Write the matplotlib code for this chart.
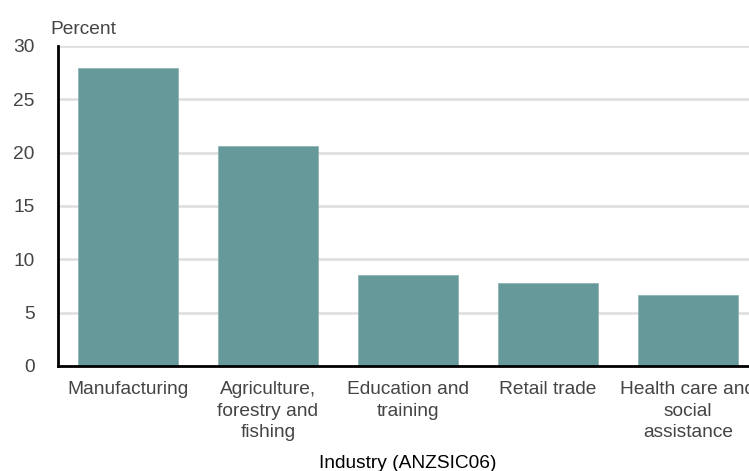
import matplotlib.pyplot as plt
import numpy as np

# Share of workers by industry (ANZSIC06), percent
industries = ["Manufacturing", "Agriculture,\nforestry and\nfishing", "Education and\ntraining",
              "Retail trade", "Health care and\nsocial\nassistance"]
percent = [27.9, 20.6, 8.5, 7.75, 6.65]
y_ticks = [0, 5, 10, 15, 20, 25, 30]

bar_color = "#669999"
text_color = "#444444"

plt.rcParams['font.family'] = ['Liberation Sans', 'DejaVu Sans']

fig = plt.figure(figsize=(7.49, 4.71), dpi=100)
# axis runs past the right edge of the picture, like the cropped original
ax = fig.add_axes([58 / 749, 1 - 366 / 471, 700 / 749, 320 / 471])

x = np.arange(len(industries))
ax.bar(x, percent, width=100 / 140, color=bar_color, edgecolor="#8fb5b5", linewidth=0.6, zorder=3)

ax.set_xlim(-0.5, len(industries) - 0.5)
ax.set_ylim(0, 30)
ax.set_yticks(y_ticks)
ax.set_yticklabels([str(t) for t in y_ticks])
ax.set_xticks(x)
ax.set_xticklabels(industries, linespacing=1.33)

ax.grid(axis="y", color="#dddddd", linewidth=1.8, zorder=0)
ax.set_axisbelow(True)
for side in ["top", "right"]:
    ax.spines[side].set_visible(False)
ax.spines["left"].set_linewidth(2)
ax.spines["bottom"].set_linewidth(2)
ax.spines["left"].set_zorder(4)
ax.spines["bottom"].set_zorder(4)
ax.tick_params(axis="both", length=0, labelsize=13.8, colors=text_color)
ax.tick_params(axis="y", pad=17)
ax.tick_params(axis="x", pad=11)

ax.set_xlabel("Industry (ANZSIC06)", fontsize=13.8, color="black", labelpad=10)
fig.text(50 / 749, 1 - 30 / 471, "Percent", fontsize=13.8, color=text_color, ha="left", va="center")

fig.savefig("out.png", dpi=100)
